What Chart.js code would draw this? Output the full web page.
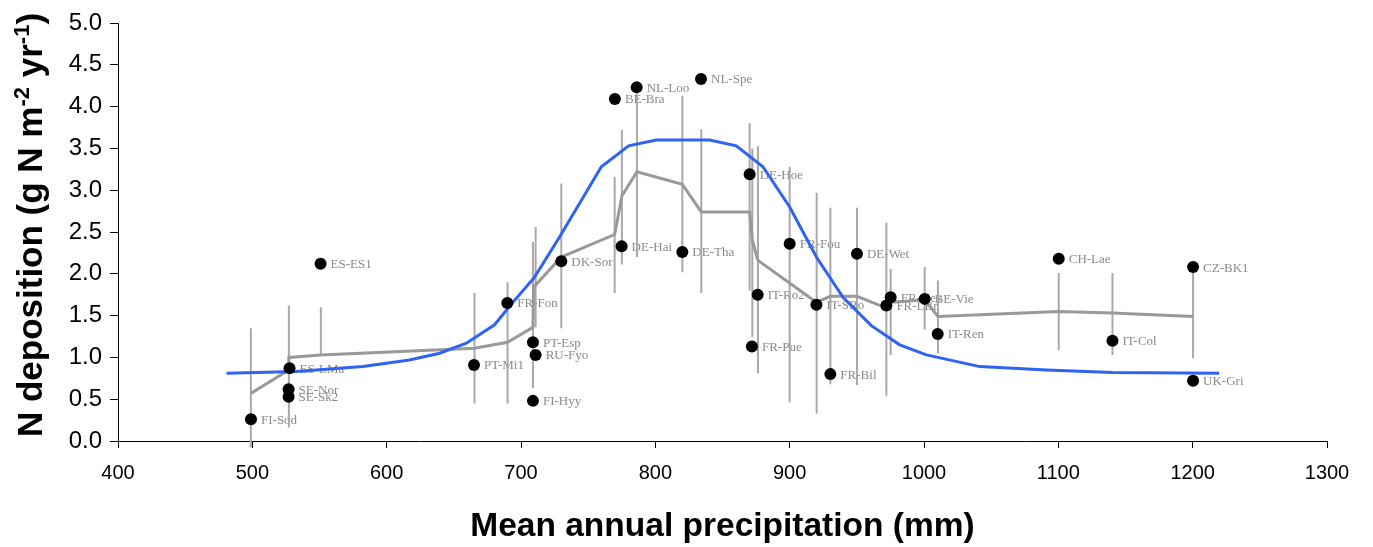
<!DOCTYPE html>
<html><head><meta charset="utf-8">
<script src="https://cdn.jsdelivr.net/npm/chart.js@4/dist/chart.umd.min.js"></script>
<style>html,body{margin:0;padding:0;background:#fff;}#wrap{width:1373px;height:547px;}</style>
</head><body><div id="wrap"><canvas id="c" width="1373" height="547"></canvas></div>
<script>
// Sites (dots)
const siteNames = ["FI-Sod","ES-LMa","SE-Nor","SE-Sk2","ES-ES1","PT-Mi1","FR-Fon","PT-Esp","RU-Fyo","FI-Hyy","DK-Sor","BE-Bra","NL-Loo","NL-Spe","DE-Hai","DE-Tha","DE-Hoe","FR-Fou","IT-Ro2","FR-Pue","IT-SRo","DE-Wet","FR-Bil","FR-Hes","FR-LBr","BE-Vie","IT-Ren","CH-Lae","IT-Col","CZ-BK1","UK-Gri"];
const siteX = [499,527.7,527,527,550.8,665,689.8,708.9,710.9,708.9,730,769.9,786.1,834,774.9,820.1,870.2,900,876.2,871.9,919.9,950.1,930.3,975.2,972,1000.5,1010.2,1100.3,1140.3,1200.3,1200.3];
const siteY = [0.26,0.87,0.62,0.53,2.12,0.91,1.65,1.18,1.03,0.48,2.15,4.09,4.23,4.33,2.33,2.26,3.19,2.36,1.75,1.13,1.63,2.24,0.80,1.72,1.62,1.70,1.28,2.18,1.20,2.08,0.72];

// Vertical range bars
const barX    = [498.9,527.2,551,665.4,690,708.9,710.9,730,769.7,775.1,786.3,820.1,834.2,870.2,872.2,876.4,900,920.1,930.3,950.1,972,975.2,1000.5,1010.4,1100.3,1140.3,1200.3];
const barLow  = [-0.075,0.16,1.03,0.45,0.45,0.63,1.36,1.35,1.77,2.11,2.20,2.02,1.77,1.80,1.24,0.81,0.46,0.33,0.68,0.67,0.54,1.03,1.33,1.05,1.09,1.03,0.99];
const barHigh = [1.35,1.62,1.60,1.77,1.90,2.38,2.56,3.08,3.16,3.72,4.16,4.13,3.73,3.80,3.50,3.53,3.28,2.97,2.79,2.79,2.61,2.06,2.08,1.92,2.01,2.01,2.08];

// Grey running line
const greyX = [498.9,527.2,527.2,551,665.4,690,708.9,709.4,730,769.7,775.1,786.3,820.1,834.2,870.2,872.2,876.4,919.9,930.3,950.1,972,975.7,1000.5,1010.4,1100.3,1140.3,1200.3];
const greyY = [0.57,0.85,1.00,1.03,1.11,1.18,1.36,1.84,2.20,2.47,2.93,3.22,3.07,2.74,2.74,2.40,2.16,1.66,1.73,1.73,1.59,1.66,1.69,1.49,1.55,1.53,1.49];

// Blue fitted curve
const blueX = [480.8,532.7,582.3,617,639.4,659.3,680.3,694,710.1,728.7,759.8,780.1,800.7,840.4,860.3,880.1,900,919.9,939.7,960.8,981.9,1001.8,1041.5,1091.1,1140.5,1219.7];
const blueY = [0.81,0.83,0.89,0.97,1.05,1.17,1.39,1.66,1.96,2.44,3.28,3.53,3.60,3.60,3.53,3.28,2.80,2.20,1.72,1.38,1.15,1.03,0.89,0.85,0.82,0.81];

const toXY = (xs, ys) => xs.map((x, i) => ({x: x, y: ys[i]}));
const barData = [];
barX.forEach((x, i) => { barData.push({x: x, y: barLow[i]}, {x: x, y: barHigh[i]}, {x: x, y: null}); });

const labelPlugin = {
  id: 'siteLabels',
  beforeDatasetsDraw(chart) {
    const ctx = chart.ctx, xs = chart.scales.x, ys = chart.scales.y;
    ctx.save();
    ctx.font = '13px "Liberation Serif", "Times New Roman", serif';
    ctx.fillStyle = '#8a8a8a';
    ctx.textBaseline = 'middle';
    ctx.textAlign = 'left';
    siteNames.forEach((n, i) => {
      ctx.fillText(n, xs.getPixelForValue(siteX[i]) + 10, ys.getPixelForValue(siteY[i]) + 1);
    });
    ctx.restore();
  }
};

const yTitlePlugin = {
  id: 'yTitle',
  afterDraw(chart) {
    const ctx = chart.ctx;
    const parts = [["N deposition (g N m", false], ["-2", true], [" yr", false], ["-1", true], [")", false]];
    const big = 'bold 35px "Liberation Sans", Arial, sans-serif';
    const small = 'bold 22px "Liberation Sans", Arial, sans-serif';
    ctx.save();
    let total = 0;
    parts.forEach(p => { ctx.font = p[1] ? small : big; total += ctx.measureText(p[0]).width; });
    ctx.translate(42, 225);
    ctx.rotate(-Math.PI / 2);
    ctx.fillStyle = '#000';
    ctx.textBaseline = 'alphabetic';
    let x = -total / 2;
    parts.forEach(p => {
      ctx.font = p[1] ? small : big;
      ctx.fillText(p[0], x, p[1] ? -13 : 0);
      x += ctx.measureText(p[0]).width;
    });
    ctx.restore();
  }
};

new Chart(document.getElementById('c'), {
  type: 'scatter',
  data: {
    datasets: [
      {data: toXY(siteX, siteY), pointRadius: 6, pointHoverRadius: 6, backgroundColor: '#000', borderWidth: 0, showLine: false, order: 0},
      {data: toXY(blueX, blueY), showLine: true, pointRadius: 0, borderColor: '#2e63f4', borderWidth: 3, tension: 0, order: 1},
      {data: toXY(greyX, greyY), showLine: true, pointRadius: 0, borderColor: '#999999', borderWidth: 3, tension: 0, order: 2},
      {data: barData, showLine: true, spanGaps: false, pointRadius: 0, borderColor: '#a9a9a9', borderWidth: 2, clip: false, order: 3}
    ]
  },
  options: {
    responsive: false,
    animation: false,
    devicePixelRatio: 1,
    plugins: {legend: {display: false}, tooltip: {enabled: false}},
    layout: {padding: {left: 0, right: 46, top: 23, bottom: 0}},
    scales: {
      x: {
        type: 'linear', min: 400, max: 1300,
        ticks: {stepSize: 100, color: '#000', padding: 13, font: {family: '"Liberation Sans", Arial, sans-serif', size: 20}, callback: v => String(v)},
        grid: {drawOnChartArea: false, drawTicks: true, tickLength: 7, color: '#000'},
        border: {display: true, color: '#000', width: 1},
        title: {display: true, text: 'Mean annual precipitation (mm)', color: '#000', padding: {top: 10, bottom: 0}, font: {family: '"Liberation Sans", Arial, sans-serif', size: 33.5, weight: 'bold'}},
        afterFit(s) { s.height = 106; }
      },
      y: {
        type: 'linear', min: 0, max: 5,
        ticks: {stepSize: 0.5, color: '#000', padding: 8, font: {family: '"Liberation Sans", Arial, sans-serif', size: 24}, callback: v => v.toFixed(1)},
        grid: {drawOnChartArea: false, drawTicks: true, tickLength: 8, color: '#000'},
        border: {display: true, color: '#000', width: 1},
        afterFit(s) { s.width = 118; }
      }
    }
  },
  plugins: [labelPlugin, yTitlePlugin]
});
</script>
</body></html>
